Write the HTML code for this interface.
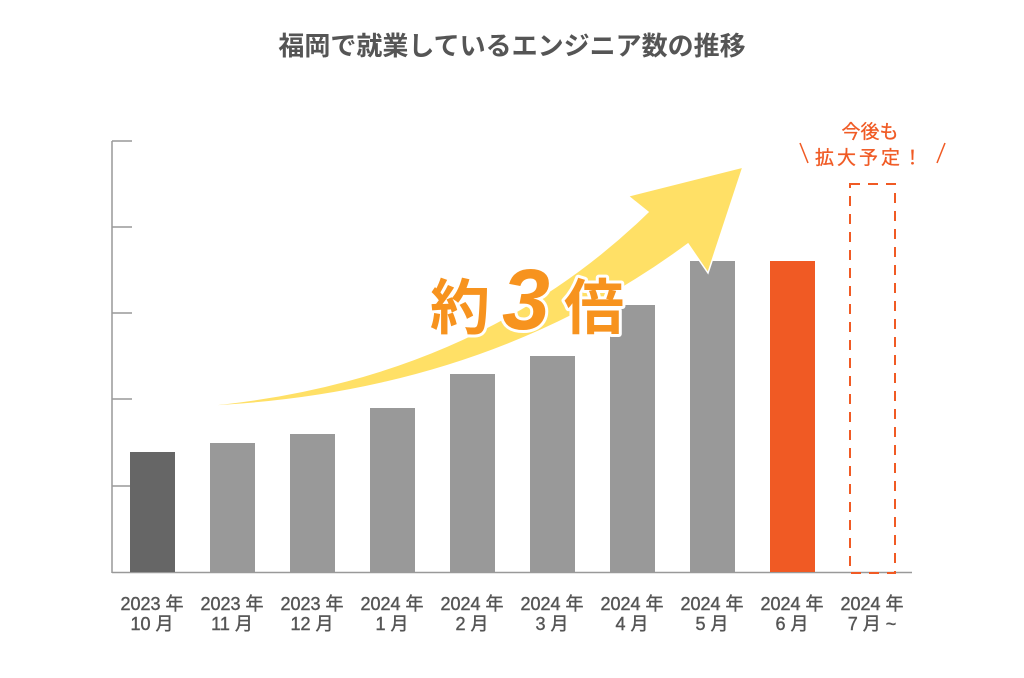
<!DOCTYPE html>
<html><head><meta charset="utf-8"><style>
html,body{margin:0;padding:0;background:#fff;}
body{width:1024px;height:673px;overflow:hidden;font-family:"Liberation Sans","Noto Sans CJK JP",sans-serif;}
</style></head><body>
<svg width="1024" height="673" viewBox="0 0 1024 673" xmlns="http://www.w3.org/2000/svg" font-family="Liberation Sans, Noto Sans CJK JP, sans-serif">
<text x="512" y="55" text-anchor="middle" font-size="26" font-weight="bold" fill="#555">福岡で就業しているエンジニア数の推移</text>
<g stroke="#999" stroke-width="1.5">
<line x1="112" y1="141" x2="112" y2="573"/>
<line x1="112" y1="572.5" x2="912" y2="572.5"/>
<line x1="112" y1="141" x2="132" y2="141"/>
<line x1="112" y1="227" x2="132" y2="227"/>
<line x1="112" y1="313" x2="132" y2="313"/>
<line x1="112" y1="399" x2="132" y2="399"/>
<line x1="112" y1="486" x2="132" y2="486"/>
</g>
<rect x="130" y="452" width="45" height="120" fill="#666"/>
<g fill="#999">
<rect x="210" y="443" width="45" height="129"/>
<rect x="290" y="434" width="45" height="138"/>
<rect x="370" y="408" width="45" height="164"/>
<rect x="450" y="374" width="45" height="198"/>
<rect x="530" y="356" width="45" height="216"/>
<rect x="610" y="305" width="45" height="267"/>
<rect x="690" y="261" width="45" height="311"/>
</g>
<rect x="770" y="261" width="45" height="311" fill="#f05a24"/>
<rect x="850" y="184" width="45" height="389" fill="none" stroke="#f05a24" stroke-width="2" stroke-dasharray="10,8"/>
<path d="M190,407 Q470,385 648,212 L628,196 L743,167 L708,273 L688,244 Q480,398 190,407 Z" fill="#ffe066" stroke="#fff" stroke-width="1.5"/>
<g font-weight="bold" fill="#f7931e" stroke="#fff" stroke-width="6" paint-order="stroke" stroke-linejoin="round">
<text x="430" y="329" font-size="60">約</text>
<text x="502" y="329" font-size="86" font-style="italic">3</text>
<text x="564" y="329" font-size="60">倍</text>
</g>
<g fill="#f05a24" font-size="19" text-anchor="middle" stroke="#f05a24" stroke-width="0.3">
<text x="870" y="138">今後も</text>
<text x="870" y="164" letter-spacing="3">拡大予定！</text>
</g>
<g stroke="#f05a24" stroke-width="1.5">
<line x1="800" y1="143" x2="808" y2="163"/>
<line x1="945" y1="143" x2="937" y2="163"/>
</g>
<g fill="#555" font-size="18" text-anchor="middle" stroke="#555" stroke-width="0.4">
<text x="152" y="610">2023 年</text><text x="152" y="630">10 月</text>
<text x="232" y="610">2023 年</text><text x="232" y="630">11 月</text>
<text x="312" y="610">2023 年</text><text x="312" y="630">12 月</text>
<text x="392" y="610">2024 年</text><text x="392" y="630">1 月</text>
<text x="472" y="610">2024 年</text><text x="472" y="630">2 月</text>
<text x="552" y="610">2024 年</text><text x="552" y="630">3 月</text>
<text x="632" y="610">2024 年</text><text x="632" y="630">4 月</text>
<text x="712" y="610">2024 年</text><text x="712" y="630">5 月</text>
<text x="792" y="610">2024 年</text><text x="792" y="630">6 月</text>
<text x="872" y="610">2024 年</text><text x="872" y="630">7 月 ~</text>
</g>
</svg>
</body></html>
